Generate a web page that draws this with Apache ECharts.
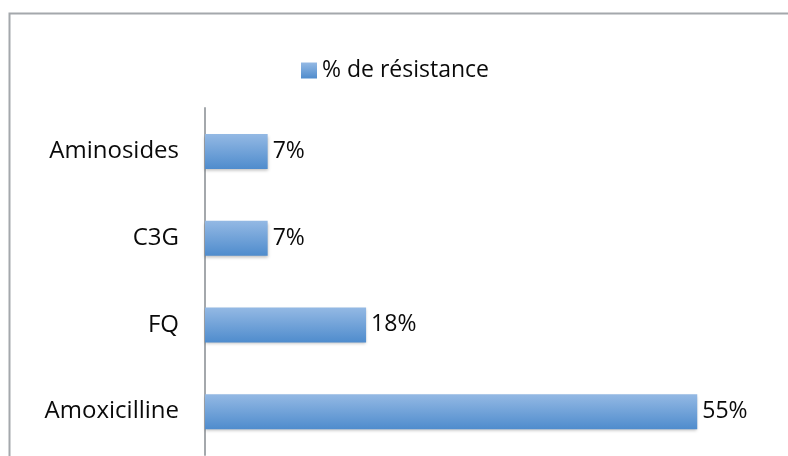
<!DOCTYPE html>
<html>
<head>
<meta charset="utf-8">
<script src="https://cdn.jsdelivr.net/npm/echarts@6/dist/echarts.min.js"></script>
<style>
  html, body { margin: 0; padding: 0; background: #fff; }
  #chart { width: 788px; height: 456px; }
</style>
</head>
<body>
<div id="chart"></div>
<script>
// categories from bottom to top (category axis on y starts at the bottom)
const categories = ["Amoxicilline", "FQ", "C3G", "Aminosides"];
const resistance = [55, 18, 7, 7];
const seriesName = "% de résistance";

const chart = echarts.init(document.getElementById("chart"));

chart.setOption({
  animation: false,
  textStyle: { fontFamily: "Open Sans" },
  graphic: [
    // frame of the original figure
    {
      type: "polyline",
      shape: { points: [[9.5, 460], [9.5, 13.5], [800, 13.5]] },
      style: { stroke: "#a4a8ac", lineWidth: 2, fill: null }
    }
  ],
  legend: {
    top: 54,
    left: 296,
    icon: "rect",
    itemWidth: 16,
    itemHeight: 16,
    textStyle: { fontSize: 23, color: "#0a0a0a", fontFamily: "Open Sans" },
    data: [seriesName]
  },
  grid: {
    left: 205,
    top: 108,
    width: 537,
    height: 347,
    containLabel: false
  },
  xAxis: {
    type: "value",
    min: 0,
    max: 60,
    show: false
  },
  yAxis: {
    type: "category",
    data: categories,
    axisLine: { show: true, lineStyle: { color: "#a4a8ac", width: 2 } },
    axisTick: { show: false },
    axisLabel: {
      fontSize: 24,
      color: "#0a0a0a",
      margin: 26,
      fontFamily: "Open Sans"
    }
  },
  series: [
    {
      name: seriesName,
      type: "bar",
      data: resistance,
      barWidth: 35,
      itemStyle: {
        color: new echarts.graphic.LinearGradient(0, 0, 0, 1, [
          { offset: 0, color: "#94b9e4" },
          { offset: 1, color: "#4f8ccd" }
        ]),
        shadowColor: "rgba(0,0,0,0.25)",
        shadowBlur: 3,
        shadowOffsetY: 2
      },
      label: {
        show: true,
        position: "right",
        distance: 5,
        formatter: "{c}%",
        fontSize: 23,
        color: "#0a0a0a",
        fontFamily: "Open Sans"
      }
    }
  ]
});
</script>
</body>
</html>
